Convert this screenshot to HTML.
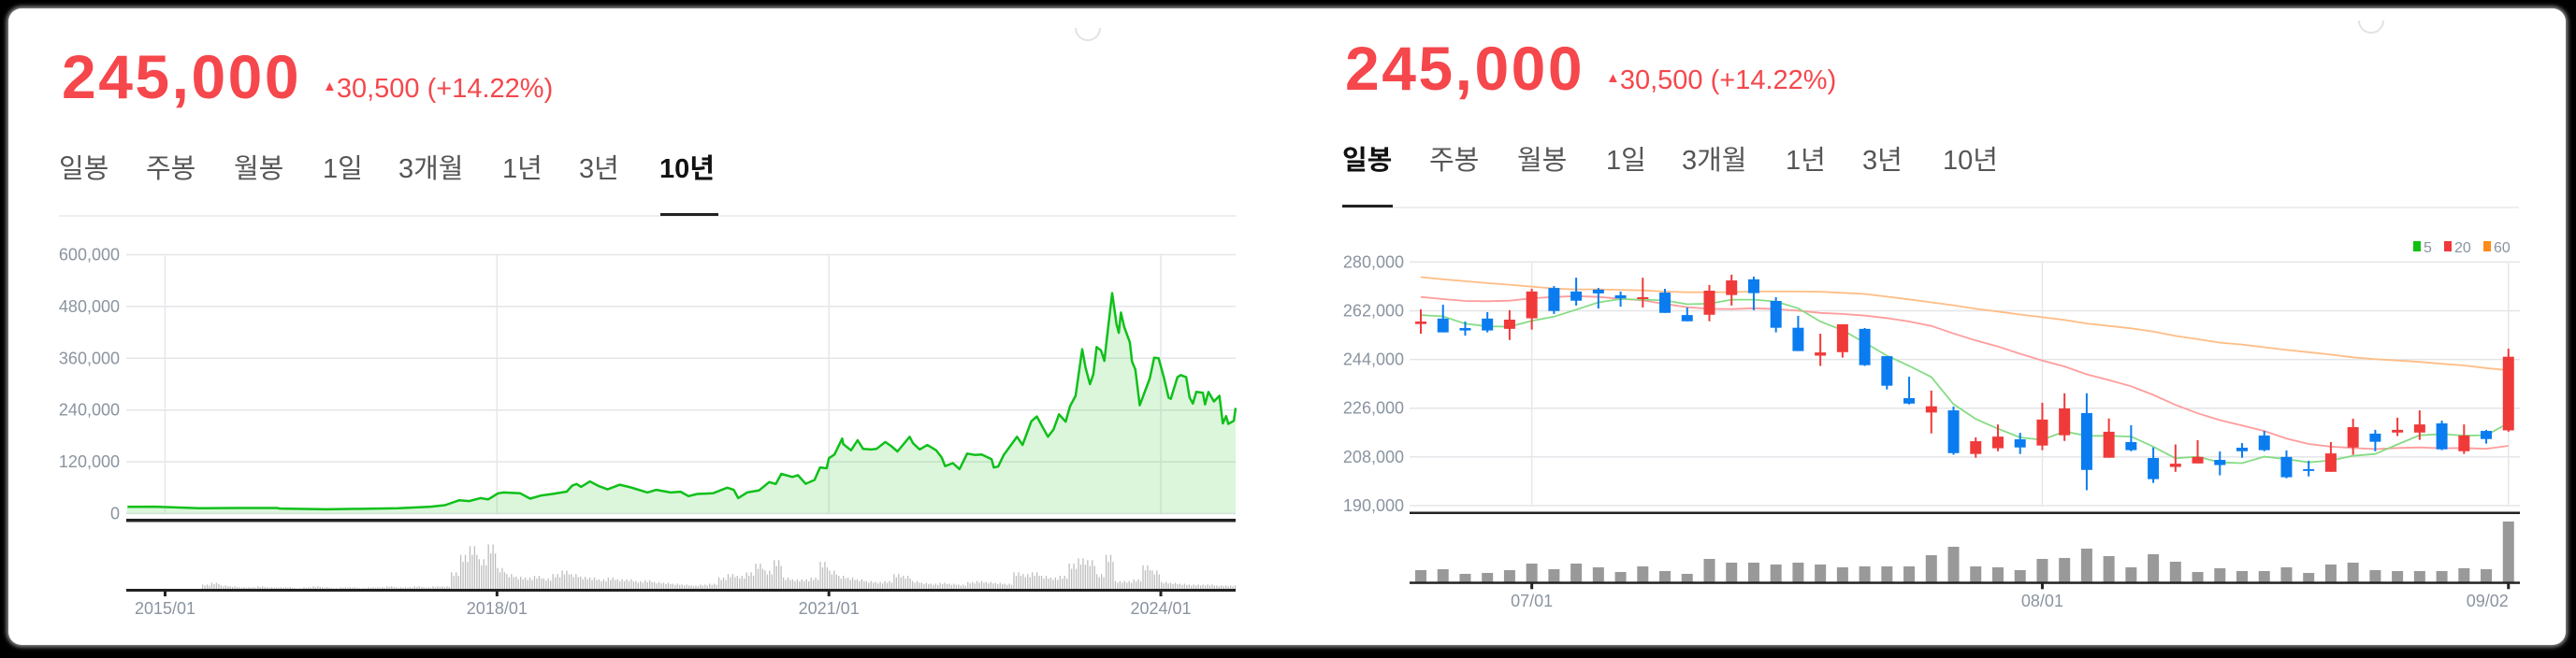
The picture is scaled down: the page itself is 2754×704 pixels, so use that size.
<!DOCTYPE html>
<html><head><meta charset="utf-8">
<style>
html,body{margin:0;padding:0;background:#000;}
body{width:2754px;height:704px;overflow:hidden;position:relative;}
#card{position:absolute;left:9px;top:9px;width:2734px;height:681px;background:#fff;border-radius:14px;box-shadow:0 0 5px 2px #999;}
svg{position:absolute;left:0;top:0;}
text{font-family:"Liberation Sans","Noto Sans CJK KR",sans-serif;}
</style></head>
<body>
<div id="card"></div>
<svg id="svg" width="2754" height="704" viewBox="0 0 2754 704">
  <g>
    <text x="66" y="105" font-size="66" font-weight="bold" fill="#f5474c" letter-spacing="2.5">245,000</text>
    <text x="345" y="104" font-size="29" fill="#f5474c"><tspan font-size="15" dy="-7">▲</tspan><tspan dy="7">30,500 (+14.22%)</tspan></text>
    <path d="M1150 30 A13 13 0 0 0 1176 30" fill="none" stroke="#e3e3e3" stroke-width="2"/>
  </g>
  <g id="leftTabs"></g>
  <rect x="63" y="230" width="1258" height="2" fill="#eeeeee"/>
  <rect x="706" y="228" width="62" height="3" fill="#222"/>
  <g id="leftChart"></g>

  <g>
    <text x="1438" y="96" font-size="66" font-weight="bold" fill="#f5474c" letter-spacing="2.5">245,000</text>
    <text x="1717" y="95" font-size="29" fill="#f5474c"><tspan font-size="15" dy="-7">▲</tspan><tspan dy="7">30,500 (+14.22%)</tspan></text>
    <path d="M2522 22 A13 13 0 0 0 2548 22" fill="none" stroke="#e3e3e3" stroke-width="2"/>
  </g>
  <g id="rightTabs"></g>
  <rect x="1435" y="221" width="1258" height="2" fill="#eeeeee"/>
  <rect x="1435" y="219" width="54" height="3" fill="#222"/>
  <g id="rightChart"></g>
  <g>
    <rect x="2580" y="258" width="8" height="11" fill="#11c011"/>
    <text x="2591" y="270" font-size="16" fill="#8a94a0">5</text>
    <rect x="2613" y="258" width="8" height="11" fill="#f03a3a"/>
    <text x="2624" y="270" font-size="16" fill="#8a94a0">20</text>
    <rect x="2655" y="258" width="8" height="11" fill="#ff8c1a"/>
    <text x="2666" y="270" font-size="16" fill="#8a94a0">60</text>
  </g>
</svg>
<script>
const tabLabels = ['일봉','주봉','월봉','1일','3개월','1년','3년','10년'];
const tabNames = ['daily','weekly','monthly','1day','3month','1year','3year','10year'];
const leftYears = [2014.66,2014.91,2015.31,2015.72,2016.01,2016.04,2016.46,2017.11,2017.40,2017.53,
2017.66,2017.75,2017.85,2017.92,2018.01,2018.06,2018.21,2018.30,2018.40,2018.50,
2018.63,2018.68,2018.72,2018.76,2018.84,2018.92,2019.00,2019.11,2019.21,2019.36,
2019.44,2019.57,2019.66,2019.73,2019.81,2019.95,2020.08,2020.14,2020.18,2020.26,
2020.37,2020.46,2020.52,2020.57,2020.67,2020.72,2020.79,2020.87,2020.92,2020.98,
2021.0,2021.05,2021.12,2021.13,2021.20,2021.26,2021.31,2021.38,2021.43,2021.51,
2021.56,2021.62,2021.73,2021.76,2021.82,2021.89,2021.97,2022.02,2022.05,2022.12,
2022.18,2022.25,2022.32,2022.38,2022.47,2022.49,2022.53,2022.58,2022.70,2022.75,
2022.83,2022.88,2022.93,2022.98,2023.03,2023.08,2023.14,2023.18,2023.23,2023.29,
2023.32,2023.36,2023.39,2023.42,2023.46,2023.49,2023.51,2023.56,2023.60,2023.62,
2023.64,2023.67,2023.72,2023.74,2023.77,2023.81,2023.90,2023.94,2023.98,2024.03,
2024.07,2024.09,2024.15,2024.18,2024.23,2024.26,2024.29,2024.32,2024.38,2024.40,
2024.43,2024.48,2024.53,2024.56,2024.59,2024.61,2024.66,2024.68];
const leftPrices = [15.9,16,12.3,13,13,11.6,10,12.3,16,19.5,
31,29,36,33,47,49,47,34.7,42,45.5,
51,65,68.7,62,74.5,63.6,56,67,60.7,49,
55,49,50.6,40.4,45.5,47,60,55,36,49,
54,73,68.6,92,85,89,69,78,107,105,
128.5,137,174,161,146.6,170,150,148.7,150,166,
157,144,178,163,148.7,159,146.6,130,110,117,
103,139,136,137,126,107,109,136,178,159,
214,225,201,178,195,230,213,249,273,381,
338,300,323,386,378,354,401,511,439,419,
466,432,397,352,334,251,313,361,360,313,
269,266,316,321,316,269,255,282,280,253,
282,260,273,209,226,208,215,245];
const leftVolStart = 2014.667;
const leftVolumes = [0,0,0,0,0,0,0,0,6,8,5,4,
3,3,4,3,3,3,2,3,4,3,2,3,3,2,3,3,4,3,3,4,3,4,4,
20,40,50,35,52,
25,18,15,14,16,13,18,22,18,15,14,12,
14,12,12,10,11,9,8,7,6,5,6,7,
14,18,16,20,30,22,34,14,12,12,14,32,
22,16,14,12,10,9,10,18,16,10,8,7,
8,7,6,9,10,9,8,7,20,18,20,16,
14,16,30,36,34,18,40,10,10,12,28,22,
9,8,7,6,6,6,5,5,5];
const leftYTicks = [0,120,240,360,480,600];
const leftYTickLabels = ['0','120,000','240,000','360,000','480,000','600,000'];
const leftXTicks = [2015,2018,2021,2024];
const leftXTickLabels = ['2015/01','2018/01','2021/01','2024/01'];

const rightOpen = [257.1,259.1,255.6,259.1,255.3,259.2,270.4,269.1,269.8,267.7,
266.3,268.7,260.4,260.5,267.8,273.6,265.6,255.7,245.4,246.7,
255.3,245.2,229.7,224.4,225.2,209.1,211.2,214.5,212.2,216.0,
224.2,207.7,213.5,207.6,204.3,205.6,206.9,211.4,215.9,208.0,
203.5,202.5,211.5,216.6,217.0,217.0,220.4,210.1,217.6,217.8];
const rightClose = [258.0,254.0,254.7,254.7,258.7,269.1,261.9,265.7,268.4,266.6,
267.0,261.2,258.1,269.4,273.2,268.5,255.7,247.1,246.6,257.0,
241.9,234.3,227.7,226.7,209.4,213.8,215.5,211.5,221.8,225.9,
203.2,217.3,210.5,199.8,205.5,208.0,205.0,210.1,210.5,200.5,
202.9,209.3,219.0,213.6,218.0,220.0,210.8,215.9,214.6,245.0];
const rightHigh = [262.5,264.2,258.0,261.5,262.2,270.1,271.1,274.2,270.4,269.1,
274.2,270.1,263.2,271.5,275.3,274.6,267.0,260.1,253.5,257.0,
255.6,245.2,237.6,232.5,226.6,215.2,220.0,216.9,228.0,231.5,
231.5,222.2,219.7,211.5,212.6,214.2,210.0,213.1,217.6,210.4,
206.6,213.5,222.1,218.0,222.5,225.2,221.4,220.0,218.0,248.0];
const rightLow = [253.5,254.0,252.8,254.0,251.2,255.0,260.8,263.9,262.8,263.5,
263.2,261.2,258.1,258.1,263.9,262.2,254.0,247.1,241.6,244.7,
241.6,232.9,227.4,216.7,208.8,207.7,210.1,209.1,210.5,213.9,
195.7,207.7,210.1,198.4,202.5,205.6,201.2,207.7,210.1,200.1,
200.8,202.5,208.8,210.1,215.7,214.3,210.5,209.1,212.9,217.3];
const rightVolume = [40,43,28,31,40,61,43,61,49,34,52,37,28,76,64,64,58,64,58,49,
52,52,52,88,115,52,49,40,76,79,109,85,49,91,67,34,46,37,37,49,
31,58,64,40,37,37,37,46,43,196];
const ma5 = [260.4,259.9,257.2,256.2,256.1,258.3,259.8,262.4,265.1,266.3,
266.1,265.8,264.4,264.6,266.1,266.1,265.4,262.9,258.0,254.8,
250.2,245.4,241.6,237.5,227.5,222.0,218.4,215.2,214.3,217.4,
215.8,215.8,215.5,211.8,207.5,208.1,206.0,205.7,208.1,207.2,
206.0,206.7,208.4,209.1,212.6,216.0,216.4,215.9,216.0,220.5];
const ma20 = [267.1,266.3,265.6,265.5,265.7,266.6,267.1,267.4,267.1,266.4,
265.8,264.5,263.3,262.7,262.6,262.9,262.6,262.0,261.2,260.8,
260.2,259.3,258.0,256.4,253.6,251.0,248.8,246.1,243.6,241.4,
238.5,236.4,234.1,230.9,227.2,224.1,221.6,219.6,217.6,214.8,
212.8,211.8,211.3,210.9,211.3,211.5,211.2,211.3,211.0,212.1];
const ma60 = [274.4,273.6,272.9,272.2,271.6,270.9,270.2,269.9,269.9,269.7,
269.5,269.1,268.8,268.8,268.9,269.1,269.1,269.1,269.0,268.6,
268.2,267.2,266.2,265.1,264.0,262.7,261.7,260.6,259.6,258.6,
257.3,256.4,255.5,254.3,252.7,251.5,250.2,249.5,248.5,247.5,
246.7,245.8,244.8,244.1,243.6,243.1,242.4,241.8,240.8,240.0];
const rightYTicks = [190,208,226,244,262,280];
const rightYTickLabels = ['190,000','208,000','226,000','244,000','262,000','280,000'];
const rightXTickIdx = [5,28,49];
const rightXTickLabels = ['07/01','08/01','09/02'];

const NS = 'http://www.w3.org/2000/svg';
function mk(tag, attrs, parent){
  const e = document.createElementNS(NS, tag);
  for (const k in attrs) e.setAttribute(k, attrs[k]);
  parent.appendChild(e);
  return e;
}

const leftTabX = [63,156,250,345,426,537,619,705];
const lt = document.getElementById('leftTabs');
const rt = document.getElementById('rightTabs');
tabLabels.forEach((t,i)=>{
  const a = mk('text',{x:leftTabX[i],y:190,'font-size':29,fill: i===7?'#111':'#555','font-weight': i===7?'bold':'normal'},lt);
  a.textContent = t;
  
  
  const b = mk('text',{x:leftTabX[i]+1372,y:181,'font-size':29,fill: i===0?'#111':'#555','font-weight': i===0?'bold':'normal'},rt);
  b.textContent = t;
  
  
});

(function(){
  const g = document.getElementById('leftChart');
  const L = 135, R = 1321, T = 272.5, B = 549.5, yMax = 600;
  const xs = yr => 176.5 + (yr - 2015) * 118.28;
  const ys = v => B - v / yMax * (B - T);
  const vBase = 631, vH = 70, vMax = 75;
  const vs = v => vBase - v / vMax * vH;
  leftYTicks.forEach((v,i)=>{
    const l = mk('line',{x1:L,x2:R,y1:ys(v),y2:ys(v),stroke:'#e3e5e8','stroke-width':1.5},g);
    
    
    const t = mk('text',{x:128,y:ys(v)+6,'font-size':18,fill:'#8a94a0','text-anchor':'end'},g);
    t.textContent = leftYTickLabels[i];
    
    
  });
  leftXTicks.forEach((yr,i)=>{
    const x = xs(yr);
    const l = mk('line',{x1:x,x2:x,y1:T,y2:B,stroke:'#e6e7ea','stroke-width':1.5},g);
    
    
    const tk = mk('rect',{x:x-1.5,y:vBase,width:3,height:7,fill:'#222'},g);
    
    
    const t = mk('text',{x:x,y:657,'font-size':18,fill:'#8a94a0','text-anchor':'middle'},g);
    t.textContent = leftXTickLabels[i];
    
    
  });
  let d = '';
  leftYears.forEach((yr,i)=>{
    const x = Math.max(L, Math.min(R, xs(yr)));
    d += (i ? 'L' : 'M') + x.toFixed(1) + ' ' + ys(leftPrices[i]).toFixed(1);
  });
  const lastX = Math.min(R, xs(leftYears[leftYears.length-1]));
  const area = mk('path',{d: d + 'L' + lastX + ' ' + B + 'L' + L + ' ' + B + 'Z', fill:'rgba(40,200,40,0.17)'},g);
  
  
  const line = mk('path',{d:d, fill:'none', stroke:'#0fc01a','stroke-width':2.5,'stroke-linejoin':'round'},g);
  
  
  const ax = mk('rect',{x:L,y:555,width:R-L,height:3.5,fill:'#222'},g);
  
  
  const monthW = 118.28 / 12;
  leftVolumes.forEach((v,i)=>{
    if (!v) return;
    const x0 = xs(leftVolStart + i / 12);
    for (let k = 0; k < 4; k++) {
      const x = x0 + k * monthW / 4;
      if (x < L || x > R) continue;
      const h = (k % 2 ? 0.8 : 1) * v;
      const r = mk('rect',{x:x,y:vs(h),width:1.3,height:vBase - vs(h),fill:'#bdbdbd'},g);
      
      
    }
  });
  const vax = mk('rect',{x:L,y:vBase-1,width:R-L,height:3,fill:'#222'},g);
  
  
})();

(function(){
  const g = document.getElementById('rightChart');
  const L = 1507, R = 2694, T = 280.3, B = 541, yMin = 190, yMax = 280;
  const xs = i => 1519 + i * 23.73;
  const ys = v => B - (v - yMin) / (yMax - yMin) * (B - T);
  const vBase = 623.3, vH = 73.3, vMax = 220;
  const vs = v => vBase - v / vMax * vH;
  rightYTicks.forEach((v,i)=>{
    const l = mk('line',{x1:L,x2:R,y1:ys(v),y2:ys(v),stroke:'#e3e5e8','stroke-width':1.5},g);
    
    
    const t = mk('text',{x:1501,y:ys(v)+6,'font-size':18,fill:'#8a94a0','text-anchor':'end'},g);
    t.textContent = rightYTickLabels[i];
    
    
  });
  rightXTickIdx.forEach((idx,i)=>{
    const x = xs(idx);
    const l = mk('line',{x1:x,x2:x,y1:T,y2:B,stroke:'#e6e7ea','stroke-width':1.5},g);
    
    
    const tk = mk('rect',{x:x-1.5,y:vBase,width:3,height:7,fill:'#222'},g);
    
    
    const last = i === rightXTickIdx.length - 1;
    const t = mk('text',{x:x,y:649,'font-size':18,fill:'#8a94a0','text-anchor': last ? 'end' : 'middle'},g);
    t.textContent = rightXTickLabels[i];
    
    
  });
  function maLine(arr, color, name){
    let d = '';
    arr.forEach((v,i)=>{ d += (i ? 'L' : 'M') + xs(i).toFixed(1) + ' ' + ys(v).toFixed(1); });
    const p = mk('path',{d:d,fill:'none',stroke:color,'stroke-width':1.8},g);
    
    
  }
  maLine(ma60, '#ffbd85', 'ma60-line');
  maLine(ma20, '#ff9c9c', 'ma20-line');
  maLine(ma5, '#86dc86', 'ma5-line');
  rightOpen.forEach((o,i)=>{
    const c = rightClose[i];
    const up = c >= o;
    const col = up ? '#f03a3a' : '#0a7cf0';
    const x = xs(i);
    const w = mk('rect',{x:x-1,y:ys(rightHigh[i]),width:2,height:ys(rightLow[i]) - ys(rightHigh[i]),fill:col},g);
    
    
    const top = ys(Math.max(o,c)), bot = ys(Math.min(o,c));
    const b = mk('rect',{x:x-6,y:top,width:12,height:Math.max(2, bot - top),fill:col},g);
    
    
    const vb = mk('rect',{x:x-6,y:vs(rightVolume[i]),width:12,height:vBase - vs(rightVolume[i]),fill:'#999'},g);
    
    
  });
  const ax = mk('rect',{x:L,y:547.5,width:R-L,height:2.5,fill:'#222'},g);
  
  
  const vax = mk('rect',{x:L,y:vBase-1,width:R-L,height:2.5,fill:'#222'},g);
  
  
})();
</script>
</body></html>
